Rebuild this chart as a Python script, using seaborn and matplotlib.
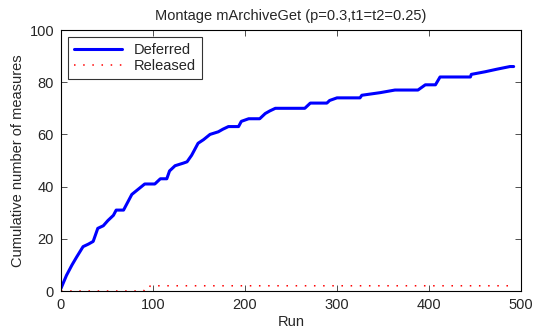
import matplotlib
matplotlib.use("Agg")
import matplotlib.pyplot as plt
import seaborn as sns
import pandas as pd

deferred_runs = [0, 6, 12, 17, 24, 30, 35, 40, 46, 51, 57, 60, 68, 71, 77, 84, 91, 102, 108, 115,
                 118, 124, 133, 137, 142, 149, 155, 162, 171, 176, 182, 193, 196, 204, 216, 222,
                 227, 233, 265, 271, 289, 292, 300, 325, 327, 347, 363, 388, 392, 396, 407, 412,
                 445, 446, 461, 474, 488, 492]
deferred_vals = [1, 6, 10, 13, 17, 18, 19, 24, 25, 27, 29, 31, 31, 33, 37, 39, 41, 41, 43, 43,
                 46, 48, 49, 49.5, 52, 56.6, 58, 60, 61, 62, 63, 63, 65, 66, 66, 68,
                 69, 70, 70, 72, 72, 73, 74, 74, 75, 76, 77, 77, 78, 79, 79, 82,
                 82, 83, 84, 85, 86, 86]
released_runs = [0, 90, 91, 96, 97, 492]
released_vals = [0, 0, 1, 1, 2, 2]

sns.set_style("white")
plt.rcParams['font.family'] = ['Liberation Sans', 'DejaVu Sans']

FS = 10.5
fig = plt.figure(figsize=(5.43, 3.29), dpi=100)
ax = fig.add_axes([0.1123, 0.1155, 0.8472, 0.7933])

df_d = pd.DataFrame({"Run": deferred_runs, "val": deferred_vals})
df_r = pd.DataFrame({"Run": released_runs, "val": released_vals})
sns.lineplot(data=df_d, x="Run", y="val", ax=ax, color=(0, 0, 1), lw=2.2, label="Deferred")
sns.lineplot(data=df_r, x="Run", y="val", ax=ax, color=(1, 0, 0), lw=1.1,
             linestyle=(0, (1, 5)), label="Released")

ax.set_xlim(0, 500)
ax.set_ylim(0, 100)
ax.set_xticks([0, 100, 200, 300, 400, 500])
ax.set_yticks([0, 20, 40, 60, 80, 100])
ax.tick_params(direction="in", length=4, width=0.6, labelsize=FS, top=True, right=True,
               bottom=True, left=True, color="#333333")
ax.tick_params(axis="x", pad=5)
ax.tick_params(axis="y", pad=5)
for s in ax.spines.values():
    s.set_visible(True)
    s.set_color("black")
    s.set_linewidth(0.8)
ax.set_xlabel("Run", fontsize=FS, labelpad=2)
ax.set_ylabel("Cumulative number of measures", fontsize=FS, labelpad=3)
ax.set_title("Montage mArchiveGet (p=0.3,t1=t2=0.25)", fontsize=FS, pad=7)
leg = ax.legend(loc="upper left", fontsize=FS, frameon=True, fancybox=False,
                edgecolor="black", borderpad=0.4, handlelength=3.3, labelspacing=0.15,
                borderaxespad=0.5)
leg.get_frame().set_linewidth(0.8)
fig.savefig("out.png", dpi=100)
